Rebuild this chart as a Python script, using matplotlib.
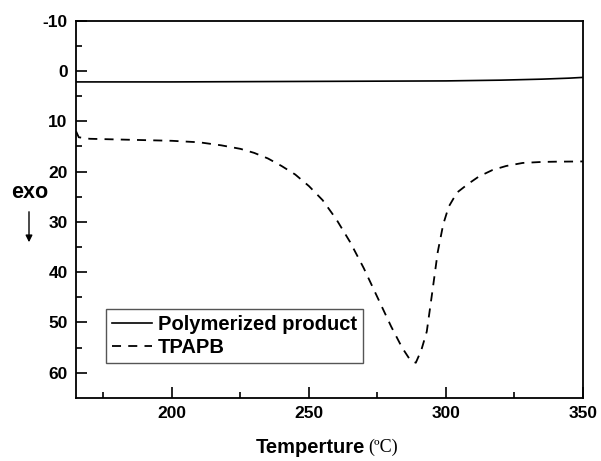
import matplotlib
matplotlib.use("Agg")
import matplotlib.pyplot as plt
import numpy as np

plt.rcParams['font.family'] = ['Liberation Sans', 'DejaVu Sans']
plt.rcParams['axes.unicode_minus'] = False

# Polymerized product (solid)
poly_x = [165, 200, 250, 300, 320, 335, 345, 350]
poly_y = [2.2, 2.2, 2.1, 2.0, 1.85, 1.65, 1.45, 1.3]

# TPAPB (dashed)
tpapb_x = [165, 166, 170, 185, 200, 210, 218, 225, 230, 235, 240, 245, 250, 255,
           260, 265, 270, 275, 280, 284, 287, 289, 291, 293, 295, 297, 299, 301,
           304, 308, 312, 317, 322, 328, 335, 340, 350]
tpapb_y = [12.0, 13.2, 13.5, 13.7, 13.9, 14.2, 14.8, 15.5, 16.3, 17.4, 18.9, 20.6,
           22.9, 25.7, 29.5, 34.0, 39.2, 45.0, 50.8, 55.0, 57.5, 58.0, 55.5, 51.8,
           44.0, 36.0, 30.5, 27.0, 24.2, 22.5, 21.0, 19.7, 18.9, 18.3, 18.1, 18.05, 18.0]

x_ticks = [200, 250, 300, 350]
y_ticks = [-10, 0, 10, 20, 30, 40, 50, 60]

fig = plt.figure(figsize=(6.01, 4.61), dpi=100)
ax = fig.add_axes([0.1265, 0.1367, 0.970 - 0.1265, 0.9555 - 0.1367])

ax.plot(poly_x, poly_y, color='black', lw=1.2, label='Polymerized product')
ax.plot(tpapb_x, tpapb_y, color='black', lw=1.3, dashes=(5, 4), label='TPAPB')

ax.set_xlim(165, 350)
ax.set_ylim(65, -10)
ax.set_xticks(x_ticks)
ax.set_yticks(y_ticks)
ax.set_xticks([175, 225, 275, 325], minor=True)
ax.set_yticks(list(range(-5, 65, 10)), minor=True)
ax.tick_params(which='major', direction='in', length=8, width=1.2, labelsize=12.5, pad=6)
ax.tick_params(which='minor', direction='in', length=4, width=1.2)
ax.tick_params(top=False, right=False)
for lab in ax.get_xticklabels() + ax.get_yticklabels():
    lab.set_fontweight('bold')
for sp in ax.spines.values():
    sp.set_linewidth(1.3)

leg = ax.legend(loc='lower left', bbox_to_anchor=(105.7 / 601, 1 - 363 / 461),
                bbox_transform=fig.transFigure, borderaxespad=0,
                prop={'weight': 'bold', 'size': 14.5}, handlelength=2.0,
                handletextpad=0.3, labelspacing=0.2, borderpad=0.3,
                fancybox=False, framealpha=1)
leg.get_frame().set_edgecolor('#555555')
leg.get_frame().set_linewidth(1.0)

fig.text(365 / 601, 1 - 447 / 461, 'Temperture', ha='right', va='center',
         fontsize=14.5, fontweight='bold')
fig.text(368 / 601, 1 - 447 / 461, '(\u00baC)', ha='left', va='center',
         fontsize=13, family=['Liberation Serif', 'DejaVu Serif'])

fig.text(30 / 601, 1 - 193 / 461, 'exo', ha='center', va='center',
         fontsize=15.5, fontweight='bold')
fig.add_artist(matplotlib.patches.FancyArrowPatch(
    (29 / 601, 1 - 209 / 461), (29 / 601, 1 - 245 / 461),
    transform=fig.transFigure, arrowstyle='-|>', mutation_scale=10,
    color='black', lw=1.0))

fig.savefig('out.png', dpi=100, facecolor='white')
